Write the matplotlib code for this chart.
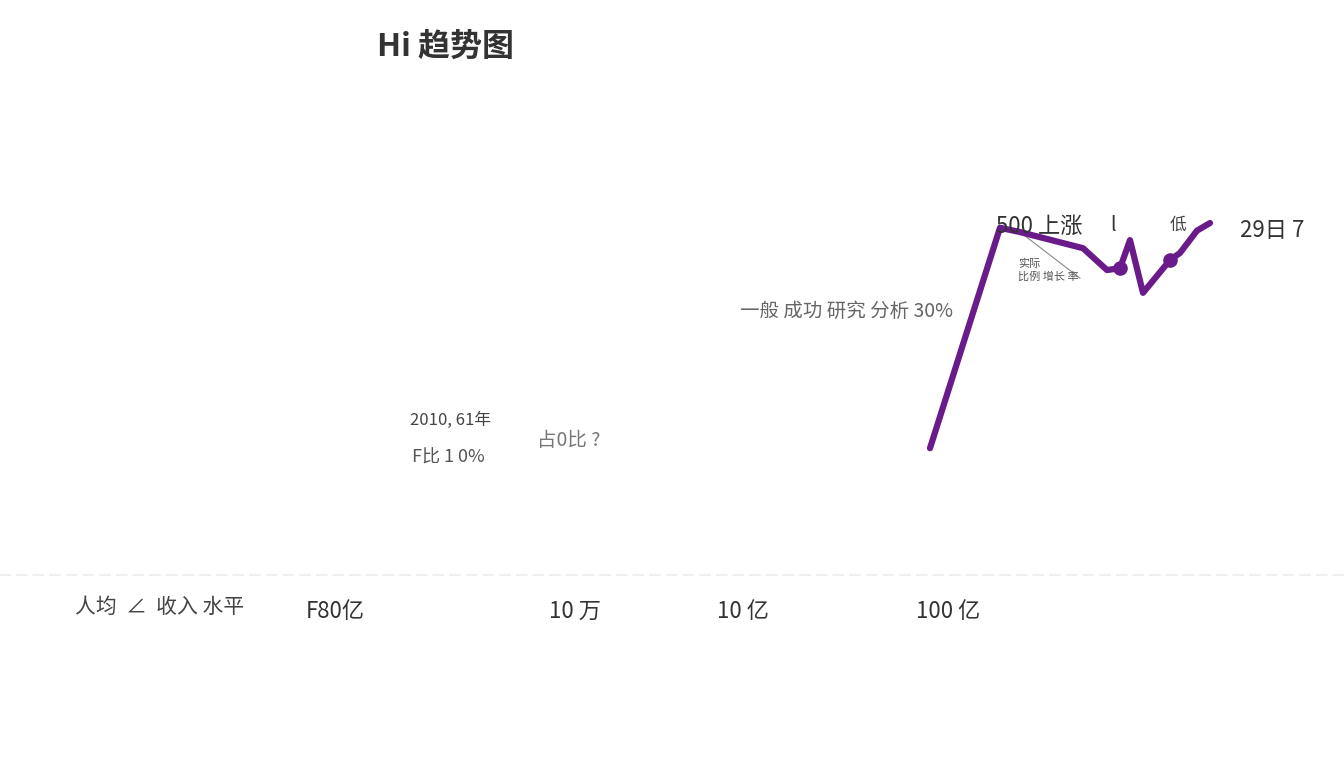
import matplotlib
matplotlib.use("Agg")
import matplotlib.pyplot as plt

plt.rcParams['font.family'] = ['Noto Sans CJK SC', 'DejaVu Sans']

# ---- data ----
x_vals = [93.0, 100.0, 102.0, 108.3, 110.7, 112.0, 113.0, 114.3, 117.0, 118.0, 119.7, 121.0]
y_vals = [26.7, 73.1, 72.2, 68.8, 64.2, 64.6, 70.5, 59.4, 66.3, 67.8, 72.5, 74.1]
marker_x = [112.0, 117.0]
marker_y = [64.6, 66.3]
tick_pos = [33.5, 57.5, 74.3, 94.8]
tick_labels = ["F80亿", "10 万", "10 亿", "100 亿"]
title_text = "Hi 趋势图"
axis_label = "人均  ∠  收入 水平"

fig = plt.figure(figsize=(13.44, 7.68), dpi=100)
ax = fig.add_axes([0.0, (768 - 575) / 768, 1.0, (575 - 100) / 768])
ax.set_xlim(0, 134.4)
ax.set_ylim(0, 100)

for s in ["top", "right", "left"]:
    ax.spines[s].set_visible(False)
ax.spines["bottom"].set_color("#ececec")
ax.spines["bottom"].set_linestyle((0, (6, 4)))
ax.spines["bottom"].set_linewidth(1.2)
ax.set_yticks([])
ax.set_xticks(tick_pos)
ax.set_xticklabels(tick_labels, fontsize=16, color="#333333")
ax.tick_params(axis="x", length=0, pad=18)

ax.plot(x_vals, y_vals, color="#6a1b8a", linewidth=4.5, solid_joinstyle="round",
        solid_capstyle="round", zorder=3)
ax.scatter(marker_x, marker_y, s=90, color="#6a1b8a", zorder=4)

# thin connector
ax.plot([102.0, 108.0], [72.2, 62.5], color="#888888", linewidth=0.8, zorder=2)

# annotations
ax.text(74.0, 55.5, "一般 成功 研究 分析 30%", fontsize=14, color="#666666", ha="left", va="center")
ax.text(41.0, 32.5, "2010, 61年", fontsize=12, color="#444444", ha="left", va="center")
ax.text(41.2, 24.8, "F比 1 0%", fontsize=13, color="#555555", ha="left", va="center")
ax.text(53.7, 28.4, "占0比 ?", fontsize=14, color="#777777", ha="left", va="center")
ax.text(99.6, 73.5, "500 上涨 ", fontsize=16, color="#333333", ha="left", va="center")
ax.text(111.0, 73.5, "l", fontsize=14, color="#333333", ha="left", va="center")
ax.text(117.0, 73.5, "低", fontsize=12, color="#444444", ha="left", va="center")
ax.text(124.0, 72.5, "29日 7", fontsize=16, color="#333333", ha="left", va="center")
ax.text(101.8, 65.5, "实际", fontsize=8, color="#555555", ha="left", va="center")
ax.text(101.8, 62.8, "比例 增长 率", fontsize=8, color="#555555", ha="left", va="center")

# axis label at left of tick row
ax.text(7.5, -6.8, axis_label, fontsize=15, color="#444444", ha="left", va="center",
        transform=ax.transData, clip_on=False)

fig.text(377 / 1344, 1 - 47 / 768, title_text, fontsize=23, fontweight="bold",
         color="#333333", ha="left", va="center")

fig.savefig("out.png", dpi=100, facecolor="white")
